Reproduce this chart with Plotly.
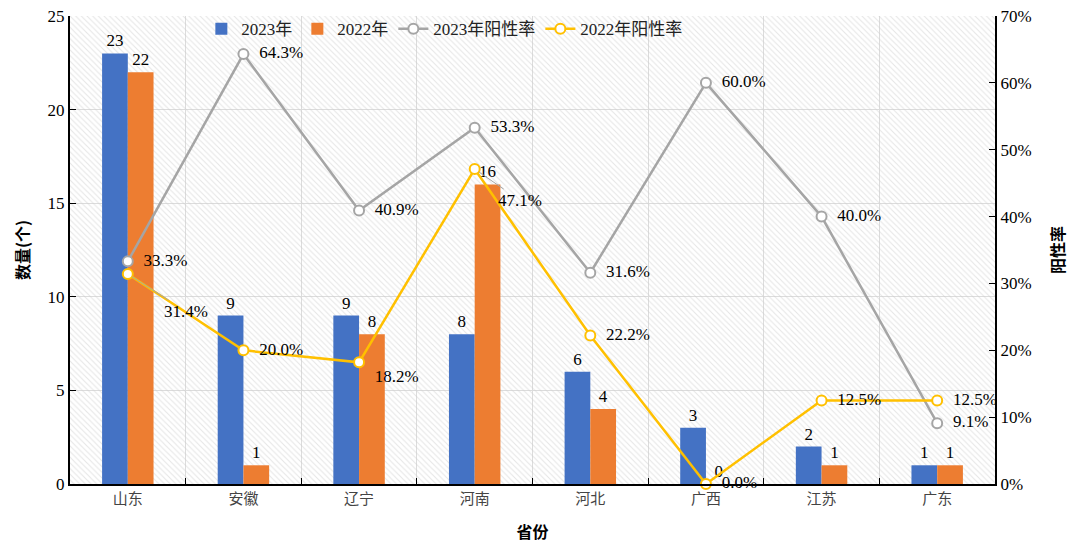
import plotly.graph_objects as go

provinces = ["山东", "安徽", "辽宁", "河南", "河北", "广西", "江苏", "广东"]
count_2023 = [23, 9, 9, 8, 6, 3, 2, 1]
count_2022 = [22, 1, 8, 16, 4, 0, 1, 1]
rate_2023 = [0.333, 0.643, 0.409, 0.533, 0.316, 0.600, 0.400, 0.091]
rate_2022 = [0.314, 0.200, 0.182, 0.471, 0.222, 0.000, 0.125, 0.125]
left_ticks = [0, 5, 10, 15, 20, 25]
right_ticks = [0, 0.1, 0.2, 0.3, 0.4, 0.5, 0.6, 0.7]

FONT = "Liberation Serif, Times New Roman, Noto Sans CJK SC, serif"
CJK = "Noto Sans CJK SC, Liberation Serif, serif"
BLUE, ORANGE, GRAY, YELLOW = "#4472C4", "#ED7D31", "#A5A5A5", "#FFC000"
NB = "\u00a0\u00a0"

fig = go.Figure()

# hatched plot-area background (base subplot, hidden axes)
fig.add_trace(go.Bar(
    x=[0], y=[1], width=[1], xaxis="x", yaxis="y",
    marker=dict(color="rgba(0,0,0,0)", line=dict(width=0),
                pattern=dict(shape="\\", size=4, solidity=0.28,
                             fgcolor="#cdcdcd", bgcolor="rgba(0,0,0,0)")),
    showlegend=False, hoverinfo="skip"))

fig.add_trace(go.Bar(
    x=provinces, y=count_2023, name="2023年", xaxis="x2", yaxis="y2",
    marker=dict(color=BLUE, line=dict(width=0)),
    text=[str(v) for v in count_2023], textposition="outside",
    textfont=dict(family=FONT, size=17, color="#000"), cliponaxis=False))
fig.add_trace(go.Bar(
    x=provinces, y=count_2022, name="2022年", xaxis="x2", yaxis="y2",
    marker=dict(color=ORANGE, line=dict(width=0)),
    text=[str(v) for v in count_2022], textposition="outside",
    textfont=dict(family=FONT, size=17, color="#000"), cliponaxis=False))

pos23 = ["middle right"] * 8
fig.add_trace(go.Scatter(
    x=provinces, y=rate_2023, name="2023年阳性率", xaxis="x2", yaxis="y3",
    mode="lines+markers+text",
    line=dict(color=GRAY, width=2.5),
    marker=dict(symbol="circle", size=10, color="white", line=dict(color=GRAY, width=2)),
    text=[f"{NB}{v*100:.1f}%" for v in rate_2023], textposition=pos23,
    textfont=dict(family=FONT, size=17, color="#000"), cliponaxis=False))

txt22 = [f"{NB}{v*100:.1f}%" for v in rate_2022]
txt22[0] = ""
txt22[3] = ""
pos22 = ["middle right", "middle right", "bottom right", "middle right",
         "middle right", "middle right", "middle right", "middle right"]
fig.add_trace(go.Scatter(
    x=provinces, y=rate_2022, name="2022年阳性率", xaxis="x2", yaxis="y3",
    mode="lines+markers+text",
    line=dict(color=YELLOW, width=2.5),
    marker=dict(symbol="circle", size=10, color="white", line=dict(color=YELLOW, width=2)),
    text=txt22, textposition=pos22,
    textfont=dict(family=FONT, size=17, color="#000"), cliponaxis=False))

# labels with leader lines
for idx, ax, ay in [(0, 58, 37), (3, 45, 31)]:
    fig.add_annotation(
        x=provinces[idx], y=rate_2022[idx], xref="x2", yref="y3",
        text=f"{rate_2022[idx]*100:.1f}%", showarrow=True, arrowhead=0,
        arrowwidth=1, arrowcolor="#A5A5A5", ax=ax, ay=ay, standoff=5,
        font=dict(family=FONT, size=17, color="#000"))

fig.update_layout(
    width=1080, height=556,
    margin=dict(l=70, r=85, t=15, b=72),
    paper_bgcolor="white", plot_bgcolor="white",
    barmode="group", bargap=0.555, bargroupgap=0,
    font=dict(family=FONT, size=16, color="#000"),
    showlegend=True,
    legend=dict(orientation="h", x=0.142, y=1.008, xanchor="left", yanchor="top",
                bgcolor="rgba(0,0,0,0)", font=dict(family=FONT, size=17, color="#222"),
                traceorder="normal", itemwidth=30),
    xaxis=dict(range=[-0.5, 0.5], visible=False, fixedrange=True),
    yaxis=dict(range=[0, 1], visible=False, fixedrange=True),
    xaxis2=dict(overlaying="x", anchor="y2", type="category", automargin=False,
                tickson="boundaries", ticks="inside", ticklen=6, tickcolor="#000",
                showgrid=True, gridcolor="#dcdcdc", gridwidth=1,
                showline=True, linecolor="#000", linewidth=2,
                tickfont=dict(family=CJK, size=15, color="#444"),
                title=dict(text="<b>省份</b>", font=dict(family=CJK, size=16, color="#000"), standoff=20)),
    yaxis2=dict(overlaying="y", anchor="x2", side="left", range=[0, 25], automargin=False,
                tickvals=left_ticks, ticks="inside", ticklen=6, tickcolor="#000",
                showgrid=True, gridcolor="#dcdcdc", gridwidth=1, zeroline=False,
                showline=True, linecolor="#000", linewidth=2,
                tickfont=dict(family=FONT, size=17, color="#000"),
                title=dict(text="<b>数量(个)</b>", font=dict(family=CJK, size=16, color="#000"), standoff=14)),
    yaxis3=dict(overlaying="y", anchor="x2", side="right", range=[0, 0.7], automargin=False,
                tickvals=right_ticks, tickformat=".0%", ticks="inside", ticklen=6,
                tickcolor="#000", showgrid=False, zeroline=False,
                showline=True, linecolor="#000", linewidth=2,
                tickfont=dict(family=FONT, size=17, color="#000"),
                title=dict(text="<b>阳性率</b>", font=dict(family=CJK, size=16, color="#000"), standoff=22)),
)

fig.write_html("out.html")
